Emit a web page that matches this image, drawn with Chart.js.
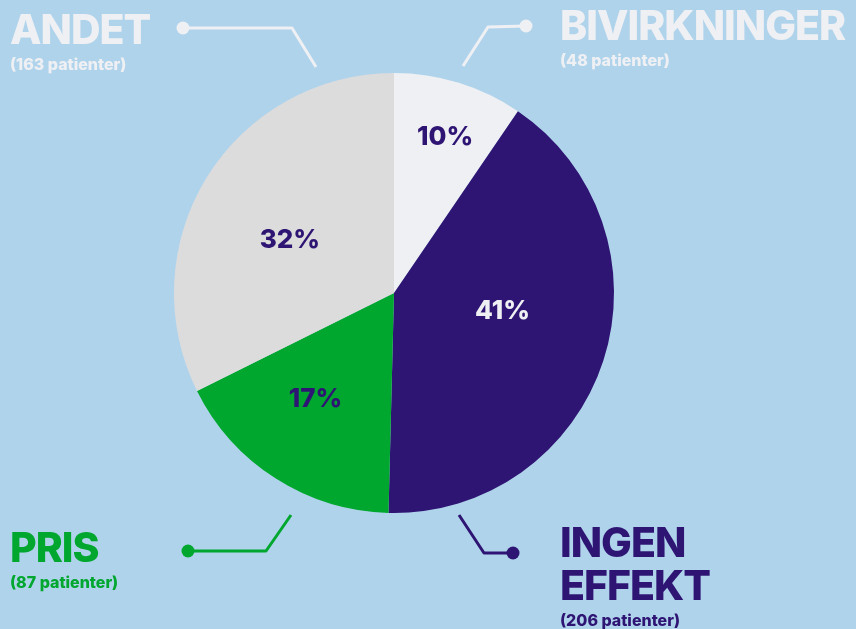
<!DOCTYPE html>
<html>
<head>
<meta charset="utf-8">
<script src="https://cdn.jsdelivr.net/npm/chart.js@4"></script>
<style>
    html, body { margin: 0; padding: 0; background: #b0d3ec; }
    #wrap { width: 856px; height: 629px; position: relative; }
</style>
</head>
<body>
<div id="wrap"><canvas id="pieChart"></canvas></div>
<script>
const categories = ['BIVIRKNINGER', 'INGEN EFFEKT', 'PRIS', 'ANDET'];
const patients = [48, 206, 87, 163];
const sliceColors = ['#eef0f3', '#2e1573', '#00a72f', '#dcdcdc'];
const pctColors = ['#2e1573', '#eef0f3', '#2e1573', '#2e1573'];

const FONT = 'Inter, "Open Sans", "DejaVu Sans", sans-serif';

// where the % text sits inside each slice: fraction of radius + small angle nudge (deg)
const pctPlacement = [
    { r: 0.745, a: 1 },
    { r: 0.5, a: -8.5 },
    { r: 0.6, a: 4 },
    { r: 0.53, a: -5 },
];

// call-out labels around the pie
const callouts = [
    { idx: 3, color: '#eef0f3', lines: ['ANDET'], sub: '(163 patienter)', x: 10, y: 44,
      path: [[183, 28], [292, 28], [316, 67]] },
    { idx: 0, color: '#eef0f3', lines: ['BIVIRKNINGER'], sub: '(48 patienter)', x: 560, y: 40,
      path: [[526, 26], [488, 27], [463, 66]] },
    { idx: 2, color: '#00a72f', lines: ['PRIS'], sub: '(87 patienter)', x: 10, y: 562,
      path: [[188, 551], [266, 551], [291, 515]] },
    { idx: 1, color: '#2e1573', lines: ['INGEN', 'EFFEKT'], sub: '(206 patienter)', x: 560, y: 557,
      path: [[513, 553], [484, 553], [459, 515]] },
];

const total = patients.reduce((a, b) => a + b, 0);

const labelPlugin = {
    id: 'pieLabels',
    afterDatasetsDraw(chart) {
        const ctx = chart.ctx;
        const meta = chart.getDatasetMeta(0);
        ctx.save();
        ctx.textAlign = 'center';
        ctx.textBaseline = 'middle';
        ctx.font = `800 26px ${FONT}`;
        meta.data.forEach((arc, i) => {
            const p = arc.getProps(['x', 'y', 'startAngle', 'endAngle', 'outerRadius'], true);
            const mid = (p.startAngle + p.endAngle) / 2 + pctPlacement[i].a * Math.PI / 180;
            const r = p.outerRadius * pctPlacement[i].r;
            ctx.fillStyle = pctColors[i];
            const pct = Math.round(patients[i] / total * 100);
            ctx.fillText(`${pct}%`, p.x + Math.cos(mid) * r, p.y + Math.sin(mid) * r);
        });

        // call-outs
        callouts.forEach((c) => {
            ctx.strokeStyle = c.color;
            ctx.fillStyle = c.color;
            ctx.lineWidth = 3;
            ctx.lineJoin = 'round';
            ctx.beginPath();
            c.path.forEach(([x, y], k) => (k === 0 ? ctx.moveTo(x, y) : ctx.lineTo(x, y)));
            ctx.stroke();
            ctx.beginPath();
            ctx.arc(c.path[0][0], c.path[0][1], 6.5, 0, Math.PI * 2);
            ctx.fill();

            ctx.textAlign = 'left';
            ctx.textBaseline = 'alphabetic';
            ctx.font = `800 41px ${FONT}`;
            ctx.letterSpacing = '-1px';
            let y = c.y;
            c.lines.forEach((line, k) => {
                ctx.fillText(line, c.x, y);
                if (k < c.lines.length - 1) y += 43;
            });
            ctx.letterSpacing = '0px';
            ctx.font = `800 16px ${FONT}`;
            ctx.fillText(c.sub, c.x, y + 26);
        });
        ctx.restore();
    },
};

new Chart(document.getElementById('pieChart'), {
    type: 'pie',
    data: {
        labels: categories,
        datasets: [
            {
                data: patients,
                backgroundColor: sliceColors,
                borderWidth: 0,
            },
        ],
    },
    options: {
        responsive: true,
        maintainAspectRatio: false,
        animation: false,
        layout: {
            padding: { left: 174, right: 242, top: 73, bottom: 116 },
        },
        plugins: {
            legend: { display: false },
            tooltip: { enabled: false },
        },
    },
    plugins: [labelPlugin],
});
</script>
</body>
</html>
